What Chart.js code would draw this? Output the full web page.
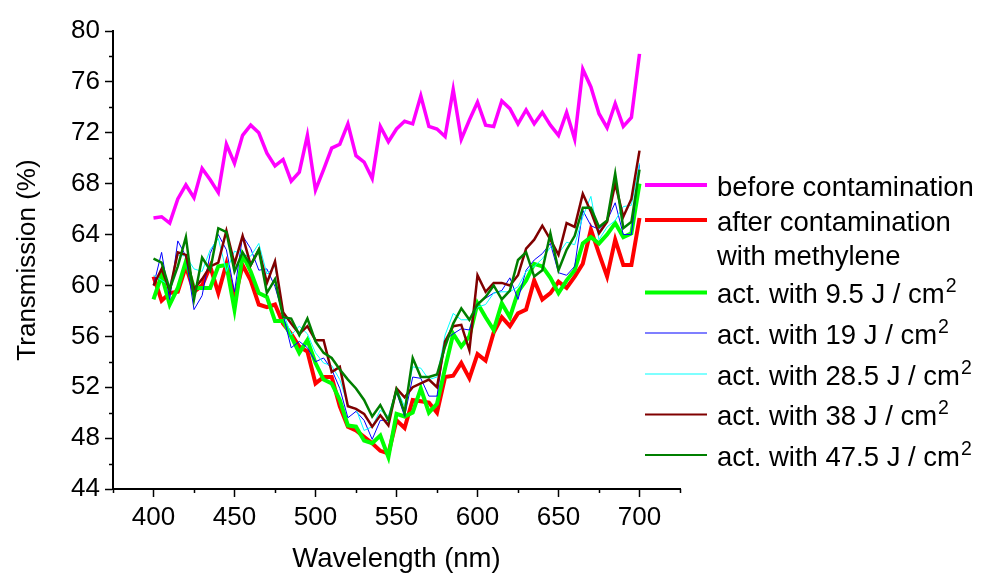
<!DOCTYPE html>
<html>
<head>
<meta charset="utf-8">
<script src="https://cdn.jsdelivr.net/npm/chart.js@4.4.0/dist/chart.umd.min.js"></script>
<style>
  html, body { margin: 0; padding: 0; background: #fff; }
  #wrap { width: 981px; height: 575px; }
</style>
</head>
<body>
<div id="wrap"><canvas id="chart" width="981" height="575"></canvas></div>
<script>
// wavelength in nm
const wavelengths = [400, 405, 410, 415, 420, 425, 430, 435, 440, 445,
  450, 455, 460, 465, 470, 475, 480, 485, 490, 495,
  500, 505, 510, 515, 520, 525, 530, 535, 540, 545,
  550, 555, 560, 565, 570, 575, 580, 585, 590, 595,
  600, 605, 610, 615, 620, 625, 630, 635, 640, 645,
  650, 655, 660, 665, 670, 675, 680, 685, 690, 695, 700];

// transmission (%)
const beforeContamination = [65.3, 65.4, 64.9, 66.8, 67.9, 66.9, 69.2, 68.3, 67.3, 71.1,
  69.6, 71.8, 72.6, 72.0, 70.4, 69.4, 69.9, 68.2, 68.9, 71.8,
  67.5, 69.1, 70.8, 71.1, 72.7, 70.2, 69.7, 68.4, 72.5, 71.3,
  72.3, 72.9, 72.7, 74.9, 72.5, 72.3, 71.7, 75.4, 71.5, 73.0,
  74.4, 72.6, 72.5, 74.5, 73.9, 72.7, 73.8, 72.7, 73.6, 72.6,
  71.8, 73.6, 71.5, 77.0, 75.6, 73.5, 72.4, 74.3, 72.5, 73.2, 78.2];

const afterContamination = [60.7, 58.8, 59.4, 59.5, 61.5, 59.5, 60.0, 61.5, 59.4, 61.7,
  58.9, 61.6, 60.4, 58.5, 58.3, 58.5, 57.0, 56.2, 55.2, 54.8,
  52.3, 52.8, 52.8, 50.5, 48.9, 48.6, 48.1, 47.6, 47.0, 46.8,
  49.4, 48.8, 51.0, 50.9, 50.8, 50.0, 52.8, 52.9, 53.9, 52.7,
  54.6, 54.1, 56.3, 57.5, 56.8, 57.8, 58.1, 60.4, 58.9, 59.4,
  60.3, 59.8, 60.7, 61.7, 64.4, 62.5, 60.7, 63.6, 61.6, 61.6, 65.3];

const act9_5 = [58.9, 60.8, 58.5, 59.8, 61.9, 59.8, 59.8, 59.8, 61.5, 61.6,
  58.1, 62.4, 61.1, 59.4, 59.1, 57.2, 57.2, 56.0, 54.7, 55.7,
  53.9, 52.6, 52.3, 51.0, 49.0, 48.9, 47.8, 47.6, 48.2, 46.5,
  49.9, 49.7, 50.0, 51.9, 50.0, 50.7, 53.5, 56.2, 55.2, 56.0,
  58.6, 57.5, 56.5, 58.6, 57.5, 59.5, 60.4, 61.7, 61.5, 60.6,
  59.4, 60.4, 61.2, 63.3, 63.8, 63.3, 64.0, 64.9, 63.8, 64.1, 68.0];

const act19 = [60.0, 62.6, 58.9, 63.5, 62.3, 58.1, 59.2, 62.5, 64.0, 62.8,
  59.5, 63.9, 62.9, 61.2, 61.3, 59.9, 57.7, 55.1, 55.6, 55.1,
  54.0, 54.3, 53.4, 51.9, 49.6, 50.1, 49.4, 47.9, 49.4, 49.4,
  51.6, 49.7, 52.8, 52.7, 51.3, 51.3, 55.7, 56.2, 56.6, 56.5,
  58.6, 59.0, 59.4, 59.6, 60.6, 58.9, 61.2, 62.0, 62.5, 63.3,
  61.0, 60.8, 61.5, 65.9, 64.7, 64.4, 65.1, 66.5, 64.0, 64.0, 69.5];

const act28_5 = [60.8, 60.4, 60.0, 62.4, 62.3, 61.3, 61.1, 62.8, 63.7, 61.1,
  62.7, 62.4, 62.3, 63.3, 60.9, 61.5, 57.9, 56.1, 56.8, 56.2,
  54.7, 53.9, 53.7, 52.6, 50.6, 50.3, 48.6, 48.9, 50.2, 49.7,
  51.9, 50.5, 53.6, 53.5, 52.6, 52.8, 56.1, 57.8, 57.3, 57.3,
  58.3, 58.5, 59.4, 59.5, 59.5, 59.9, 61.1, 61.5, 62.1, 63.0,
  62.5, 63.4, 63.2, 65.4, 67.0, 63.6, 64.6, 65.1, 66.2, 66.3, 69.6];

const act38 = [60.0, 61.3, 59.6, 62.6, 62.4, 59.7, 60.5, 61.5, 61.8, 64.3,
  61.7, 63.9, 61.6, 62.8, 60.2, 61.9, 57.9, 57.0, 56.2, 56.8,
  55.7, 55.7, 53.2, 53.6, 50.5, 50.3, 49.9, 48.9, 49.8, 49.0,
  51.9, 51.2, 52.0, 52.3, 52.6, 52.0, 55.6, 56.8, 56.9, 54.9,
  60.8, 59.5, 60.2, 60.2, 60.0, 60.8, 62.9, 63.6, 64.7, 63.6,
  62.4, 64.9, 64.6, 67.2, 65.8, 64.1, 65.0, 68.0, 65.4, 66.8, 70.6];

const act47_5 = [62.1, 61.8, 59.7, 61.5, 63.8, 58.9, 62.2, 61.2, 64.5, 64.2,
  61.1, 62.6, 61.6, 62.8, 59.4, 60.5, 57.5, 57.4, 56.1, 57.4,
  55.6, 54.7, 54.3, 53.4, 52.6, 51.9, 51.0, 49.7, 50.6, 49.4,
  51.8, 50.0, 54.3, 52.8, 52.8, 53.0, 55.2, 57.0, 58.2, 57.3,
  58.5, 59.1, 60.0, 58.9, 59.6, 62.0, 62.6, 60.7, 61.2, 64.1,
  61.2, 62.8, 63.9, 66.1, 66.1, 64.6, 65.1, 68.8, 64.5, 65.0, 69.1];

const seriesValues = [beforeContamination, afterContamination, act9_5, act19, act28_5, act38, act47_5];
// "\n" = new line, "^" = superscript
const seriesLabels = [
  'before contamination',
  'after contamination\nwith methylene',
  'act. with 9.5 J / cm^2',
  'act. with 19 J / cm^2',
  'act. with 28.5 J / cm^2',
  'act. with 38 J / cm^2',
  'act. with 47.5 J / cm^2'
];
const seriesColors = ['#ff00ff', '#ff0000', '#00ff00', '#0000ff', '#00ffff', '#800000', '#007f00'];
const seriesWidths = [3.5, 4, 4, 1, 1, 2.5, 2.5];
const legendWidths = [4, 4, 4, 1.2, 1.2, 2, 2];

const FONT = "'Liberation Sans', Arial, sans-serif";

// minor ticks + legend drawn by hand
const extras = {
  id: 'extras',
  afterDraw(chart) {
    const ctx = chart.ctx;
    const xs = chart.scales.x, ys = chart.scales.y;
    ctx.save();
    ctx.strokeStyle = '#000';
    ctx.lineWidth = 1.5;
    ctx.beginPath();
    xs.ticks.forEach(t => {
      if (t.value % 50 !== 0) {
        const px = Math.round(xs.getPixelForValue(t.value)) + 0.5;
        ctx.moveTo(px, xs.top);
        ctx.lineTo(px, xs.top + 4);
      }
    });
    ys.ticks.forEach(t => {
      if (t.value % 4 !== 0) {
        const py = Math.round(ys.getPixelForValue(t.value)) + 0.5;
        ctx.moveTo(ys.right, py);
        ctx.lineTo(ys.right - 4, py);
      }
    });
    ctx.stroke();

    // legend
    const rows = [185, 220, 292.5, 333, 374, 414.5, 455];
    const x1 = 645, x2 = 707, tx = 717;
    ctx.textBaseline = 'alphabetic';
    ctx.textAlign = 'left';
    ctx.fillStyle = '#000';
    seriesLabels.forEach((label, i) => {
      const y = rows[i];
      ctx.strokeStyle = seriesColors[i];
      ctx.lineWidth = legendWidths[i];
      ctx.beginPath();
      ctx.moveTo(x1, y);
      ctx.lineTo(x2, y);
      ctx.stroke();
      label.split('\n').forEach((line, j) => {
        const base = y + 10.5 + j * 34.5;
        const parts = line.split('^');
        ctx.font = '27.5px ' + FONT;
        ctx.fillText(parts[0], tx, base);
        if (parts[1]) {
          const w = ctx.measureText(parts[0]).width;
          ctx.font = '19.5px ' + FONT;
          ctx.fillText(parts[1], tx + w + 1, base - 11);
        }
      });
    });
    ctx.restore();
  }
};

const datasets = seriesValues.map((vals, i) => ({
  label: seriesLabels[i],
  data: wavelengths.map((w, k) => ({ x: w, y: vals[k] })),
  borderColor: seriesColors[i],
  borderWidth: seriesWidths[i],
  pointRadius: 0,
  tension: 0,
  fill: false,
  order: seriesValues.length - i
}));

new Chart(document.getElementById('chart'), {
  type: 'line',
  data: { datasets },
  options: {
    responsive: false,
    animation: false,
    layout: { padding: { top: 31, right: 301, bottom: 0, left: 0 } },
    plugins: { legend: { display: false }, tooltip: { enabled: false } },
    scales: {
      x: {
        type: 'linear',
        min: 375,
        max: 725,
        afterFit: s => { s.height = 86; },
        ticks: {
          stepSize: 25,
          autoSkip: false,
          maxRotation: 0,
          padding: 5,
          color: '#000',
          font: { family: FONT, size: 26 },
          callback: v => (v % 50 === 0 ? v : '')
        },
        grid: {
          drawOnChartArea: false,
          tickLength: 8,
          tickWidth: 1.5,
          tickColor: c => (c.tick && c.tick.value % 50 === 0 ? '#000' : 'rgba(0,0,0,0)')
        },
        border: { color: '#000', width: 2 },
        title: {
          display: true,
          text: 'Wavelength (nm)',
          color: '#000',
          font: { family: FONT, size: 27.5, lineHeight: 1.1 },
          padding: { top: 0, bottom: 0 }
        }
      },
      y: {
        min: 44,
        max: 80,
        afterFit: s => { s.width = 113; },
        ticks: {
          stepSize: 2,
          autoSkip: false,
          padding: 5,
          color: '#000',
          font: { family: FONT, size: 26 },
          callback: v => (v % 4 === 0 ? v : '')
        },
        grid: {
          drawOnChartArea: false,
          tickLength: 8,
          tickWidth: 1.5,
          tickColor: c => (c.tick && c.tick.value % 4 === 0 ? '#000' : 'rgba(0,0,0,0)')
        },
        border: { color: '#000', width: 2 },
        title: {
          display: true,
          text: 'Transmission (%)',
          color: '#000',
          font: { family: FONT, size: 26 },
          padding: { top: 12, bottom: 0 }
        }
      }
    }
  },
  plugins: [extras]
});
</script>
</body>
</html>
